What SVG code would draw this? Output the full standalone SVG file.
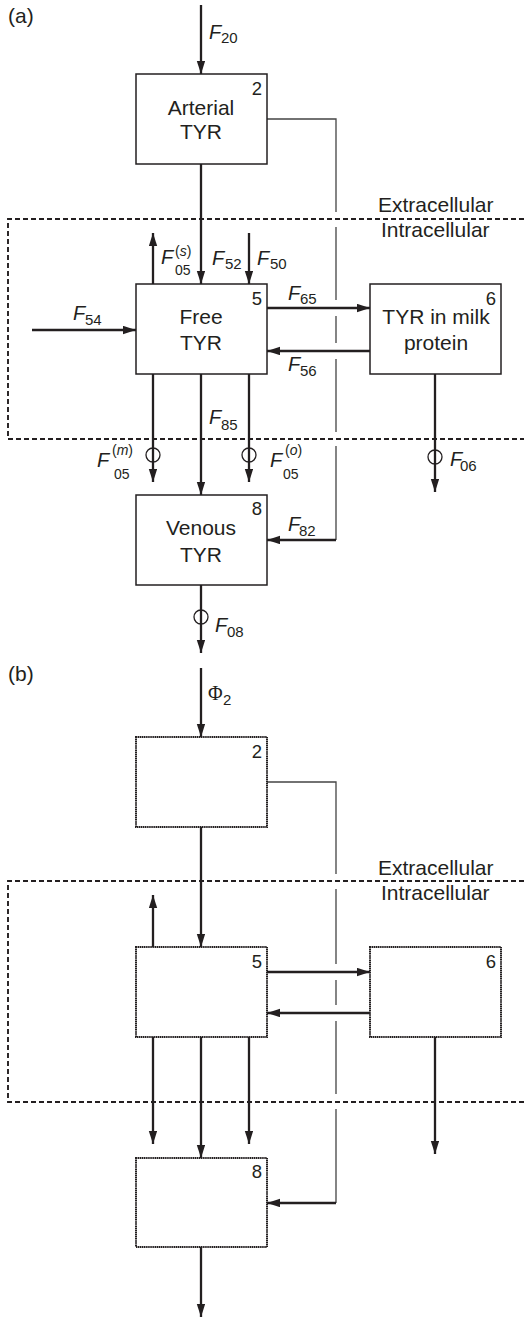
<svg xmlns="http://www.w3.org/2000/svg" width="524" height="1317" viewBox="0 0 524 1317">
<style>
.box{fill:#fff;stroke:#231f20;stroke-width:1.5}
.boxd{fill:#fff;stroke:#231f20;stroke-width:2;stroke-dasharray:1.4 0.5}
.arr{stroke:#231f20;stroke-width:2.3;fill:none;marker-end:url(#ah)}
.thin{stroke:#444;stroke-width:1.3;fill:none}
.dash{stroke:#231f20;stroke-width:1.9;stroke-dasharray:5 3;fill:none}
.circ{fill:none;stroke:#231f20;stroke-width:1.3}
text{font-family:"Liberation Sans",Arial,sans-serif;fill:#231f20}
.lbl{font-size:21px;text-anchor:middle}
.reg{font-size:21px}
.num{font-size:18.5px;text-anchor:end}
.F{font-size:20px;font-style:italic}
.sub{font-size:15px;font-style:normal}
.s2{font-size:14px;font-style:normal}
.phi{font-family:"Liberation Serif","Times New Roman",serif;font-size:20px}
</style>
<defs>
<marker id="ah" markerUnits="userSpaceOnUse" markerWidth="14" markerHeight="9" refX="13" refY="4.2" orient="auto">
<path d="M0,0 L13,4.2 L0,8.4 z" fill="#231f20"/>
</marker>
</defs>

<text class="reg" x="8" y="23">(a)</text>
<text class="reg" x="8" y="681">(b)</text>

<!-- Part (a) -->
<g id="regions-a">
<path class="dash" d="M524,219 H8 V439 H524"/>
<text class="reg" x="378" y="212">Extracellular</text>
<text class="reg" x="381" y="237">Intracellular</text>
</g>

<g id="connectors-a">
<path class="thin" d="M267,119 H336 V212 M336,227 V300 M336,316 V343 M336,359 V432 M336,446 V540"/>
<path class="arr" d="M201,5 V74"/>
<path class="arr" d="M201,164 V284"/>
<path class="arr" d="M153,284 V233"/>
<path class="arr" d="M249,233 V284"/>
<path class="arr" d="M32,330 H136"/>
<path class="arr" d="M267,308 H370"/>
<path class="arr" d="M370,351 H267"/>
<path class="arr" d="M153,374 V482"/>
<path class="arr" d="M201,374 V495"/>
<path class="arr" d="M249,374 V482"/>
<path class="arr" d="M435,374 V492"/>
<path class="arr" d="M336,540 H267"/>
<path class="arr" d="M201,585 V653"/>
<circle class="circ" cx="153" cy="455" r="7"/>
<circle class="circ" cx="249" cy="455" r="7"/>
<circle class="circ" cx="435" cy="457" r="7"/>
<circle class="circ" cx="201" cy="617" r="7"/>
<text class="F" x="209" y="39">F</text><text class="sub" x="221" y="43">20</text>
<text class="F" x="161" y="264">F</text><text class="s2" x="175" y="256">(<tspan font-style="italic">s</tspan>)</text><text class="s2" x="175" y="275">05</text>
<text class="F" x="212" y="265">F</text><text class="sub" x="225" y="269">52</text>
<text class="F" x="257" y="265">F</text><text class="sub" x="270" y="269">50</text>
<text class="F" x="73" y="320">F</text><text class="sub" x="85" y="325">54</text>
<text class="F" x="288" y="300">F</text><text class="sub" x="300" y="304">65</text>
<text class="F" x="288" y="371">F</text><text class="sub" x="300" y="376">56</text>
<text class="F" x="209" y="424">F</text><text class="sub" x="221" y="430">85</text>
<text class="F" x="97" y="467">F</text><text class="s2" x="112" y="455">(<tspan font-style="italic">m</tspan>)</text><text class="s2" x="114" y="479">05</text>
<text class="F" x="270" y="467">F</text><text class="s2" x="285" y="455">(<tspan font-style="italic">o</tspan>)</text><text class="s2" x="283" y="479">05</text>
<text class="F" x="450" y="466">F</text><text class="sub" x="460" y="471">06</text>
<text class="F" x="288" y="531">F</text><text class="sub" x="299" y="536">82</text>
<text class="F" x="215" y="632">F</text><text class="sub" x="227" y="637">08</text>
</g>

<g id="node-a2">
<rect class="box" x="136" y="74" width="131" height="90"/>
<text class="num" x="262" y="95">2</text>
<text class="lbl" x="201" y="115">Arterial</text>
<text class="lbl" x="201" y="139">TYR</text>
</g>
<g id="node-a5">
<rect class="box" x="136" y="284" width="131" height="90"/>
<text class="num" x="262" y="305">5</text>
<text class="lbl" x="201" y="324">Free</text>
<text class="lbl" x="201" y="350">TYR</text>
</g>
<g id="node-a6">
<rect class="box" x="370" y="284" width="131" height="90"/>
<text class="num" x="496" y="305">6</text>
<text class="lbl" x="436" y="324">TYR in milk</text>
<text class="lbl" x="436" y="350">protein</text>
</g>
<g id="node-a8">
<rect class="box" x="136" y="495" width="131" height="90"/>
<text class="num" x="262" y="515">8</text>
<text class="lbl" x="201" y="535">Venous</text>
<text class="lbl" x="201" y="562">TYR</text>
</g>

<!-- Part (b) -->
<g transform="translate(0,663)">
<g id="regions-b">
<path class="dash" d="M524,218 H8 V439 H524"/>
<text class="reg" x="378" y="212">Extracellular</text>
<text class="reg" x="381" y="237">Intracellular</text>
</g>
<g id="connectors-b">
<path class="thin" d="M267,119 H336 V211 M336,226 V301 M336,317 V342 M336,358 V431 M336,446 V540"/>
<path class="arr" d="M201,5 V74"/>
<path class="arr" d="M201,164 V284"/>
<path class="arr" d="M153,284 V232"/>
<path class="arr" d="M267,309 H370"/>
<path class="arr" d="M370,350 H267"/>
<path class="arr" d="M153,374 V481"/>
<path class="arr" d="M201,374 V495"/>
<path class="arr" d="M249,374 V481"/>
<path class="arr" d="M435,374 V491"/>
<path class="arr" d="M336,540 H267"/>
<path class="arr" d="M201,584 V654"/>
<text class="phi" x="208" y="37">Φ</text><text class="sub" x="223" y="42">2</text>
</g>
<g id="node-b2">
<rect class="boxd" x="136" y="74" width="131" height="90"/>
<text class="num" x="262" y="95">2</text>
</g>
<g id="node-b5">
<rect class="boxd" x="136" y="284" width="131" height="90"/>
<text class="num" x="262" y="305">5</text>
</g>
<g id="node-b6">
<rect class="boxd" x="370" y="284" width="131" height="90"/>
<text class="num" x="496" y="305">6</text>
</g>
<g id="node-b8">
<rect class="boxd" x="136" y="495" width="131" height="89"/>
<text class="num" x="262" y="515">8</text>
</g>
</g>
</svg>
